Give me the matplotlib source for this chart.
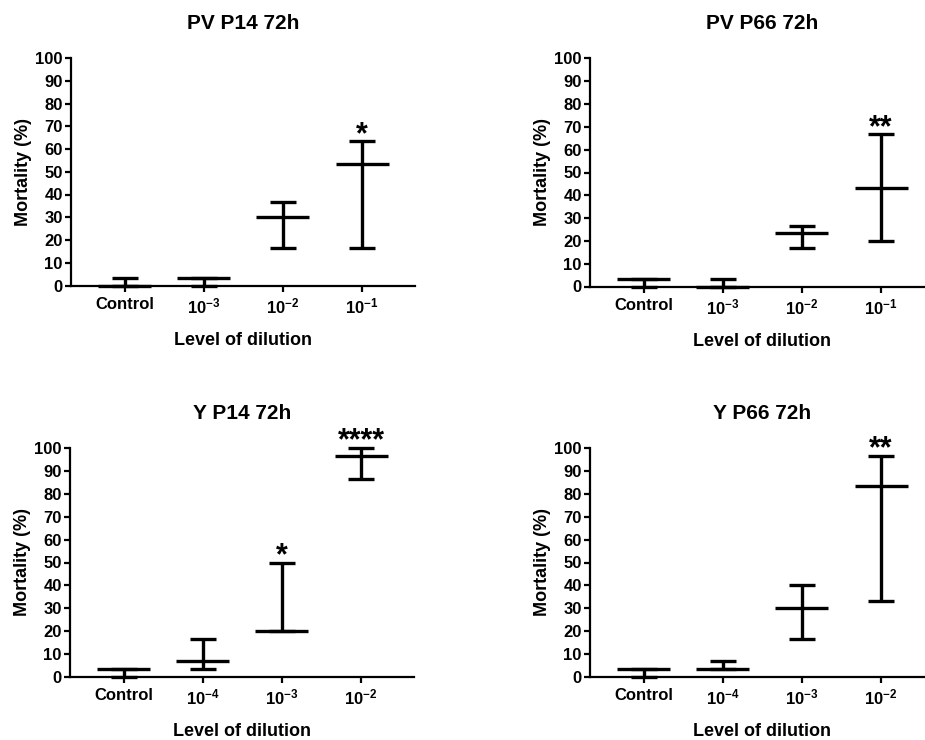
import matplotlib
matplotlib.use("Agg")
import matplotlib.pyplot as plt

plt.rcParams["font.family"] = ["Liberation Sans", "DejaVu Sans"]
plt.rcParams["font.weight"] = "bold"
plt.rcParams["mathtext.fontset"] = "custom"
plt.rcParams["mathtext.rm"] = "Liberation Sans:bold"
plt.rcParams["mathtext.bf"] = "Liberation Sans:bold"
plt.rcParams["mathtext.it"] = "Liberation Sans:bold"

# Median with range (min..max) of mortality per dilution level
top_labels = ["Control", r"$\mathbf{10^{-3}}$", r"$\mathbf{10^{-2}}$", r"$\mathbf{10^{-1}}$"]
bottom_labels = ["Control", r"$\mathbf{10^{-4}}$", r"$\mathbf{10^{-3}}$", r"$\mathbf{10^{-2}}$"]

pv_p14_median = [0, 3.33, 30, 53.33]
pv_p14_min = [0, 0, 16.67, 16.67]
pv_p14_max = [3.33, 3.33, 36.67, 63.33]
pv_p14_stars = ["", "", "", "*"]

pv_p66_median = [3.33, 0, 23.33, 43.33]
pv_p66_min = [0, 0, 16.67, 20]
pv_p66_max = [3.33, 3.33, 26.67, 66.67]
pv_p66_stars = ["", "", "", "**"]

y_p14_median = [3.33, 6.67, 20, 96.67]
y_p14_min = [0, 3.33, 20, 86.67]
y_p14_max = [3.33, 16.67, 50, 100]
y_p14_stars = ["", "", "*", "****"]

y_p66_median = [3.33, 3.33, 30, 83.33]
y_p66_min = [0, 3.33, 16.67, 33.33]
y_p66_max = [3.33, 6.67, 40, 96.67]
y_p66_stars = ["", "", "", "**"]

panels = [
    ("PV P14 72h", top_labels, pv_p14_median, pv_p14_min, pv_p14_max, pv_p14_stars),
    ("PV P66 72h", top_labels, pv_p66_median, pv_p66_min, pv_p66_max, pv_p66_stars),
    ("Y P14 72h", bottom_labels, y_p14_median, y_p14_min, y_p14_max, y_p14_stars),
    ("Y P66 72h", bottom_labels, y_p66_median, y_p66_min, y_p66_max, y_p66_stars),
]

W, H = 925, 740
# axes rectangles in pixels: left, top(y=100), width, height
rects_px = [(71, 58, 344, 227.5), (590, 58.5, 344, 228),
            (70, 448.3, 344, 228.4), (590, 448.3, 344, 228.4)]

fig = plt.figure(figsize=(W / 100, H / 100), dpi=100)

LW = 2.4
for (title, labels, med, lo, hi, stars), (l, t, w, h) in zip(panels, rects_px):
    ax = fig.add_axes([l / W, 1 - (t + h) / H, w / W, h / H])
    x = list(range(len(labels)))
    err = [[m - a for m, a in zip(med, lo)], [b - m for m, b in zip(med, hi)]]
    ax.errorbar(x, med, yerr=err, fmt="none", ecolor="black", elinewidth=LW,
                capsize=9.2, capthick=LW, clip_on=False)
    ax.hlines(med, [i - 0.335 for i in x], [i + 0.335 for i in x],
              color="black", linewidth=LW, clip_on=False)
    for i, s in enumerate(stars):
        if s:
            ax.annotate(s, (x[i], hi[i]), xytext=(0, -1), textcoords="offset points",
                        ha="center", va="baseline", fontsize=22, fontweight="bold",
                        annotation_clip=False)

    ax.set_xlim(-0.68, 3.67)
    ax.set_ylim(0, 100)
    ax.set_yticks(range(0, 101, 10))
    ax.set_xticks(x)
    ax.set_xticklabels(labels)
    for side in ("top", "right"):
        ax.spines[side].set_visible(False)
    for side in ("left", "bottom"):
        ax.spines[side].set_linewidth(1.6)
    ax.tick_params(axis="both", direction="out", length=4, width=1.6,
                   labelsize=12, pad=2)
    ax.tick_params(axis="x", pad=4)
    ax.set_title(title, fontsize=15, fontweight="bold", pad=21)
    ax.set_xlabel("Level of dilution", fontsize=13, fontweight="bold", labelpad=11)
    ax.set_ylabel("Mortality (%)", fontsize=13, fontweight="bold")
    ax.yaxis.set_label_coords(-0.114, 0.5)

fig.savefig("out.png", dpi=100)
